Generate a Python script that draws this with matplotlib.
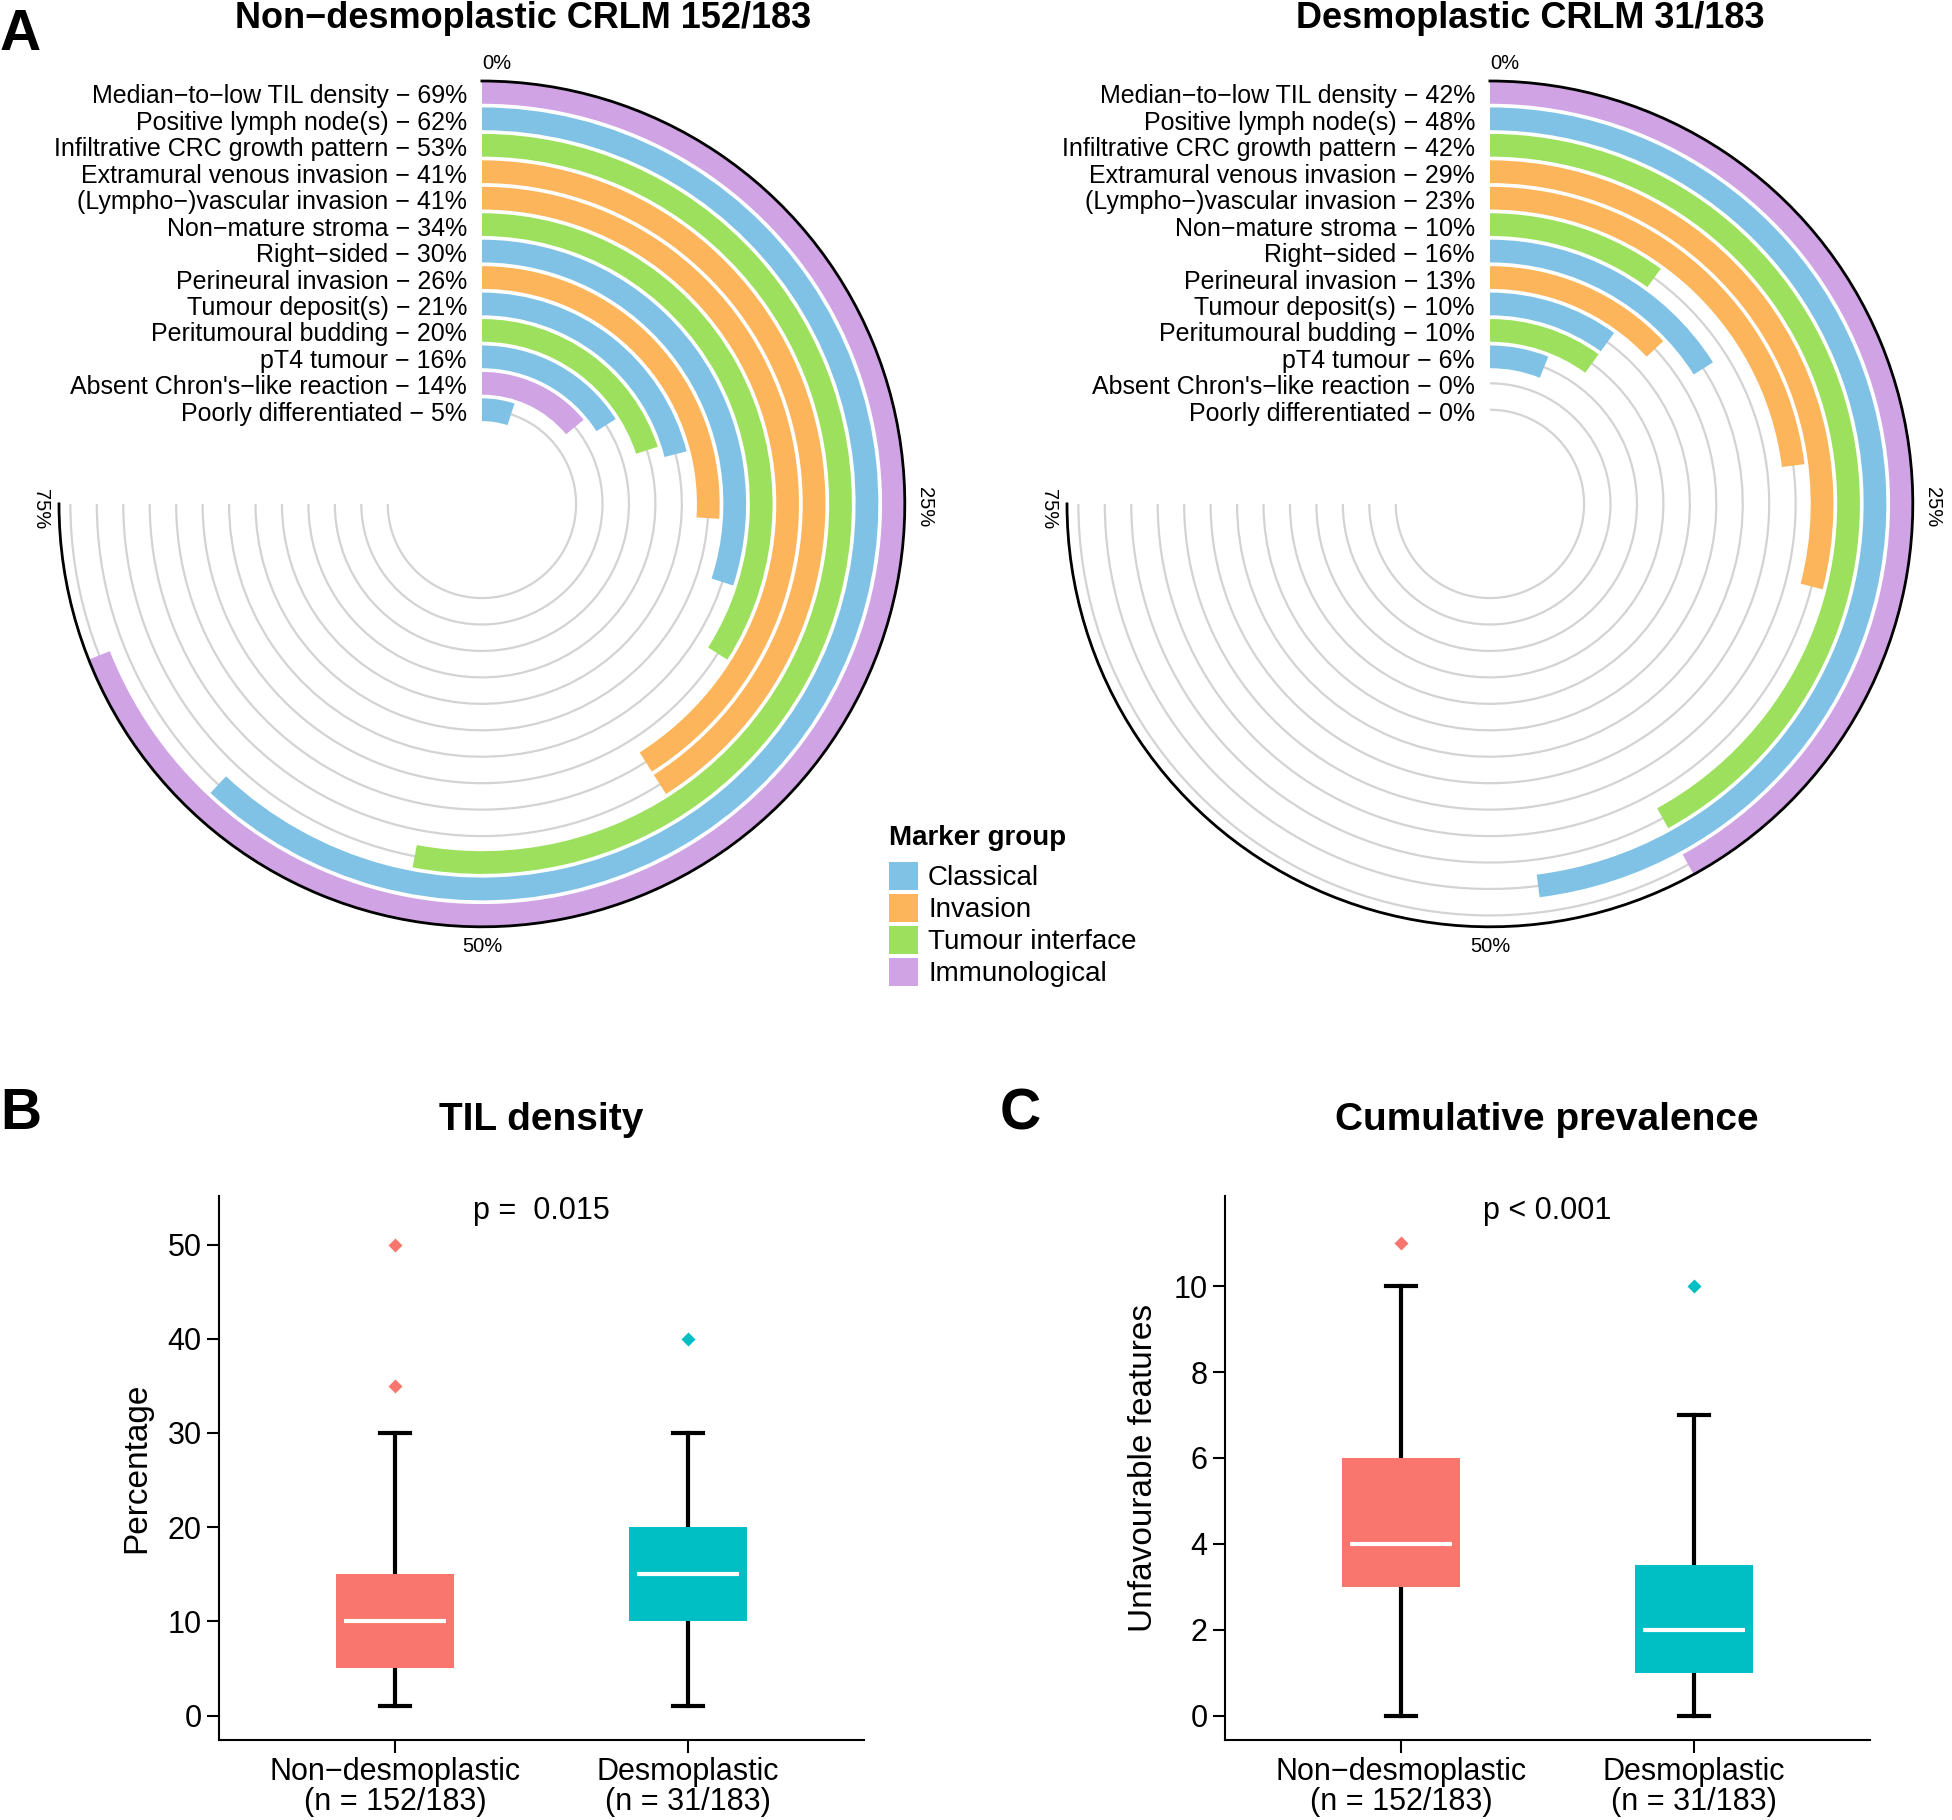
import numpy as np
import matplotlib
matplotlib.use("Agg")
import matplotlib.pyplot as plt
from matplotlib.patches import Patch

plt.rcParams["font.family"] = ["Liberation Sans", "DejaVu Sans"]

# ---- data ------------------------------------------------------------------
features = ["Median\u2212to\u2212low TIL density", "Positive lymph node(s)",
            "Infiltrative CRC growth pattern", "Extramural venous invasion",
            "(Lympho\u2212)vascular invasion", "Non\u2212mature stroma",
            "Right\u2212sided", "Perineural invasion", "Tumour deposit(s)",
            "Peritumoural budding", "pT4 tumour",
            "Absent Chron's\u2212like reaction", "Poorly differentiated"]
feature_groups = ["Immunological", "Classical", "Tumour interface", "Invasion",
                  "Invasion", "Tumour interface", "Classical", "Invasion",
                  "Classical", "Tumour interface", "Classical",
                  "Immunological", "Classical"]
non_desmo_pct = [69, 62, 53, 41, 41, 34, 30, 26, 21, 20, 16, 14, 5]
desmo_pct = [42, 48, 42, 29, 23, 10, 16, 13, 10, 10, 6, 0, 0]

group_names = ["Classical", "Invasion", "Tumour interface", "Immunological"]
group_colors = ["#7FC2E5", "#FDB55B", "#9DE05E", "#CFA3E4"]

angle_ticks = [0, 25, 50, 75]

box_labels = ["Non\u2212desmoplastic\n(n = 152/183)", "Desmoplastic\n(n = 31/183)"]
box_colors = ["#F8766D", "#00BFC4"]

til_whislo = [1, 1]
til_q1 = [5, 10]
til_med = [10, 15]
til_q3 = [15, 20]
til_whishi = [30, 30]
til_fliers = [[35, 50], [40]]

cum_whislo = [0, 0]
cum_q1 = [3, 1]
cum_med = [4, 2]
cum_q3 = [6, 3.5]
cum_whishi = [10, 7]
cum_fliers = [[11], [10]]

W, H = 1952, 1820
fig = plt.figure(figsize=(W / 100, H / 100), dpi=100)


def fig_box(x0, y0, x1, y1):
    """pixel box (top-left origin) -> figure fraction rect"""
    return [x0 / W, 1 - y1 / H, (x1 - x0) / W, (y1 - y0) / H]


# ---- panel A: radial bars ----------------------------------------------------
def radial_panel(cx, cy, R, pct, title, title_x):
    ax = fig.add_axes(fig_box(cx - R, cy - R, cx + R, cy + R), projection="polar")
    n = len(features)
    pos = np.arange(n)[::-1]  # first feature on the outside
    rmax = 12.43
    ax.set_theta_zero_location("N")
    ax.set_theta_direction(-1)
    ax.set_thetamin(0)
    ax.set_thetamax(270)
    ax.set_ylim(-3.56, rmax)
    ax.set_axisbelow(True)

    ax.set_yticks(np.arange(n))
    ax.set_yticklabels([])
    ax.tick_params(axis="y", length=0)
    ax.yaxis.grid(True, color="#D3D3D3", lw=1.6)
    ax.xaxis.grid(False)

    ax.set_xticks(np.deg2rad(np.array(angle_ticks) * 3.6))
    ax.set_xticklabels([])
    minor = [m for m in range(5, 76, 5) if m % 25]
    ax.set_xticks(np.deg2rad(np.array(minor) * 3.6), minor=True)
    ax.tick_params(axis="x", which="major", direction="out", length=10, width=1.5)
    ax.tick_params(axis="x", which="minor", direction="out", length=6, width=1.2)
    # polar draw() resets visibility of these, so hide them by colour
    for s in ("start", "end", "inner"):
        ax.spines[s].set_color("none")
        ax.spines[s].set_linewidth(0)
    ax.spines["polar"].set_linewidth(2)

    cmap = dict(zip(group_names, group_colors))
    cols = [cmap[g] for g in feature_groups]
    ax.bar(np.zeros(n), 0.86, width=np.deg2rad(np.array(pct) * 3.6),
           bottom=pos - 0.43, align="edge", color=cols, linewidth=0)

    for f, v, p in zip(features, pct, pos):
        ax.annotate(f"{f} \u2212 {v}%", xy=(0, p), xytext=(-15, -4),
                    textcoords="offset pixels", ha="right", va="center",
                    fontsize=18, annotation_clip=False)

    # angle labels
    lab_cfg = {0: ((0, 12), 0, "left", "baseline"),
               25: ((20, -3), -90, "center", "center"),
               50: ((0, -20), 0, "center", "center"),
               75: ((-19, -5), -90, "center", "center")}
    for t in angle_ticks:
        off, rot, ha, va = lab_cfg[t]
        ax.annotate(f"{t}%", xy=(np.deg2rad(t * 3.6), rmax), xytext=off,
                    textcoords="offset pixels", ha=ha, va=va, rotation=rot,
                    fontsize=14.5, annotation_clip=False)

    fig.text(title_x / W, 1 - 28 / H, title, ha="center", va="baseline",
             fontsize=26, fontweight="bold")
    return ax


radial_panel(486, 508, 427, non_desmo_pct, "Non\u2212desmoplastic CRLM 152/183", 523)
radial_panel(1494, 508, 427, desmo_pct, "Desmoplastic CRLM 31/183", 1530)

# legend: title as text, keys via fig.legend
fig.text(889 / W, 1 - 845 / H, "Marker group", ha="left", va="baseline",
         fontsize=20, fontweight="bold")
handles = [Patch(facecolor=c, edgecolor="none") for c in group_colors]
fig.legend(handles, group_names, loc="upper left",
           bbox_to_anchor=(889 / W, 1 - 862 / H), frameon=False,
           fontsize=20, handlelength=1.045, handleheight=1.177,
           handletextpad=0.36, labelspacing=0.092, borderaxespad=0,
           borderpad=0)

fig.text(0, 1 - 50 / H, "A", fontsize=41, fontweight="bold", va="baseline")


# ---- panels B and C: box plots -------------------------------------------
def box_panel(rect, whislo, q1, med, q3, whishi, fliers, ylim, yticks,
              ylabel, ptext, py):
    ax = fig.add_axes(rect)
    stats = [dict(whislo=a, q1=b, med=c, q3=d, whishi=e, fliers=f)
             for a, b, c, d, e, f in zip(whislo, q1, med, q3, whishi, fliers)]
    xs = np.arange(1, len(stats) + 1)
    bp = ax.bxp(stats, positions=xs, widths=0.4, patch_artist=True,
                showfliers=False, capwidths=0.1,
                boxprops=dict(linewidth=0),
                whiskerprops=dict(color="black", linewidth=3),
                capprops=dict(color="black", linewidth=3),
                medianprops=dict(linewidth=0))
    for patch, c in zip(bp["boxes"], box_colors):
        patch.set_facecolor(c)
        patch.set_zorder(3)
    ax.hlines(med, xs - 0.174, xs + 0.174, color="white", linewidth=3, zorder=4)
    for x, f, c in zip(xs, fliers, box_colors):
        ax.plot([x] * len(f), f, linestyle="none", marker="D", markersize=7.5,
                markerfacecolor=c, markeredgecolor="none")

    ax.set_xlim(0.4, 2.6)
    ax.set_ylim(*ylim)
    ax.set_yticks(yticks)
    ax.set_xticks(xs)
    ax.set_xticklabels(box_labels, linespacing=1.0)
    ax.tick_params(labelsize=22, length=9, width=1.5, color="black")
    for s in ("top", "right"):
        ax.spines[s].set_visible(False)
    for s in ("left", "bottom"):
        ax.spines[s].set_linewidth(1.5)
    ax.set_ylabel(ylabel, fontsize=24)
    ax.yaxis.set_label_coords(-0.127, 0.5)
    ax.yaxis.label.set_va("center")
    ax.text(1.5, py, ptext, ha="center", va="center", fontsize=22)
    return ax


axb = box_panel(fig_box(219, 1196, 864, 1740), til_whislo, til_q1, til_med,
                til_q3, til_whishi, til_fliers, (-2.6, 55.15), range(0, 51, 10),
                "Percentage", "p =  0.015", 53.6)
axc = box_panel(fig_box(1225, 1196, 1870, 1740), cum_whislo, cum_q1, cum_med,
                cum_q3, cum_whishi, cum_fliers, (-0.57, 12.1), range(0, 11, 2),
                "Unfavourable features", "p < 0.001", 11.76)

fig.text(541 / W, 1 - 1130 / H, "TIL density", ha="center", va="baseline",
         fontsize=28, fontweight="bold")
fig.text(1547 / W, 1 - 1130 / H, "Cumulative prevalence", ha="center",
         va="baseline", fontsize=28, fontweight="bold")
fig.text(0, 1 - 1129 / H, "B", fontsize=41, fontweight="bold", va="baseline")
fig.text(1000 / W, 1 - 1129 / H, "C", fontsize=41, fontweight="bold", va="baseline")

fig.savefig("out.png", dpi=100)
